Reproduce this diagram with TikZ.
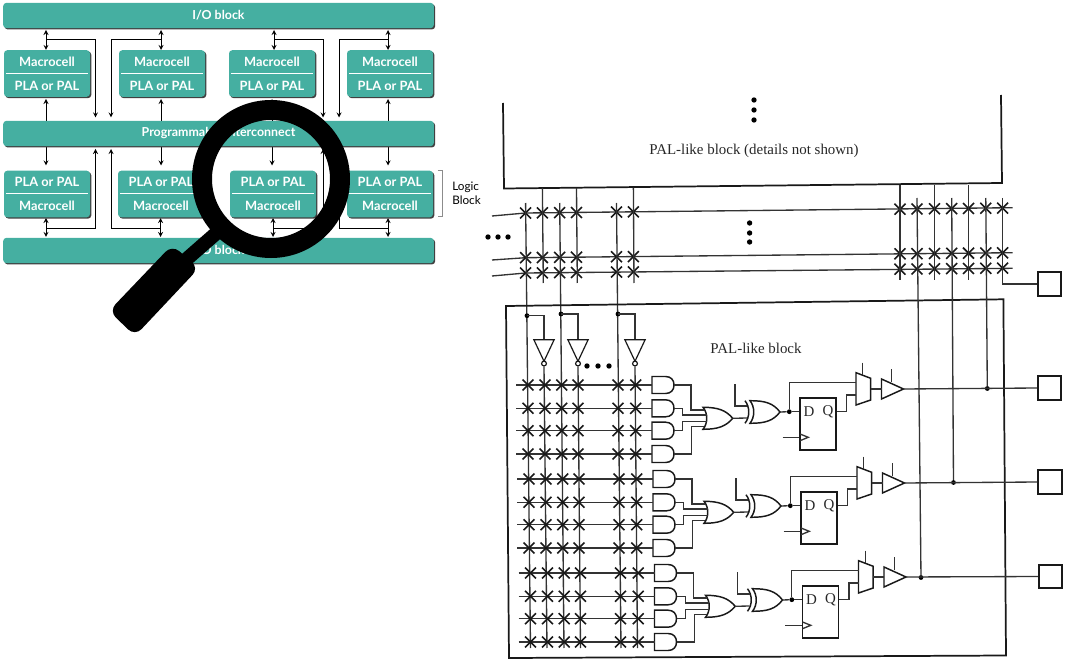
\documentclass[tikz,border=0pt]{standalone}
\usepackage{fontspec}
\usetikzlibrary{shapes.geometric, shapes.misc, shapes.gates.logic.US, arrows.meta, positioning, shadows}
\newfontfamily\blockfont{Lato}
\newfontfamily\scanfont{Liberation Serif}
\definecolor{blockteal}{HTML}{45AFA1}
\newcommand{\celltext}[2]{#1\\\rule[3.5pt]{61pt}{0.6pt}\\#2}
\tikzstyle{bar} = [rectangle, rounded corners=2.5pt, fill=blockteal, draw=none, minimum width=323pt, minimum height=19pt, text=white, font=\blockfont\bfseries\fontsize{9.3}{9}\selectfont, drop shadow={shadow xshift=1pt, shadow yshift=-1pt, fill=black!75, opacity=1}]
\tikzstyle{cell} = [rectangle, rounded corners=2.5pt, fill=blockteal, draw=none, minimum width=64.5pt, minimum height=35pt, inner sep=0pt, align=center, text=white, font=\blockfont\bfseries\fontsize{9.6}{9}\selectfont, drop shadow={shadow xshift=1pt, shadow yshift=-1pt, fill=black!75, opacity=1}]
\tikzstyle{link} = [line width=0.7pt, black, >=stealth]
\tikzstyle{wire} = [line width=1pt, black!80]
\tikzstyle{heavy} = [line width=1.3pt, black!90]
\tikzstyle{gate} = [line width=1.1pt, black!90]
\tikzstyle{xmark} = [cross out, draw=black!90, line width=1.2pt, minimum size=7pt, inner sep=0pt]
\tikzstyle{jdot} = [circle, fill=black, inner sep=0pt, minimum size=3.6pt]
\tikzstyle{vdot} = [circle, fill=black, inner sep=0pt, minimum size=4pt]
\tikzstyle{pad} = [rectangle, draw=black!90, line width=1.4pt, fill=white, minimum size=17.5pt, inner sep=0pt]
\tikzstyle{scan} = [font=\scanfont\fontsize{11.2}{13}\selectfont, text=black!85, inner sep=0pt]
\tikzset{
	andgate/.pic={
		\draw [gate] (-11,-8.5) -- (2.5,-8.5) .. controls (8,-8.5) and (11,-5) .. (11,0) .. controls (11,5) and (8,8.5) .. (2.5,8.5) -- (-11,8.5) -- cycle;
		\coordinate (-in) at (-11,0);
		\coordinate (-out) at (11,0);
	},
	orgate/.pic={
		\draw [gate] (-15,-11) .. controls (0,-11) and (8,-8) .. (14.7,0) .. controls (8,8) and (0,11) .. (-15,11) .. controls (-10,5) and (-10,-5) .. (-15,-11) -- cycle;
		\coordinate (-ia) at (-14,-8.3);
		\coordinate (-ib) at (-11.5,-3.3);
		\coordinate (-ic) at (-11.5,3.3);
		\coordinate (-id) at (-14,8.3);
		\coordinate (-out) at (14.7,0);
	},
	xorgate/.pic={
		\draw [gate] (-15,-11.3) .. controls (0,-11.3) and (8,-9) .. (15,0) .. controls (8,9) and (0,11.3) .. (-15,11.3) .. controls (-10,5) and (-10,-5) .. (-15,-11.3) -- cycle;
		\draw [gate] (-20,-11.3) .. controls (-15,-5) and (-15,5) .. (-20,11.3);
		\coordinate (-ia) at (-18,-6);
		\coordinate (-ib) at (-18,6);
		\coordinate (-out) at (15,0);
	},
	bufgate/.pic={
		\draw [gate] (-11,-10) -- (11,0) -- (-11,10) -- cycle;
		\coordinate (-in) at (-11,0);
		\coordinate (-out) at (11,0);
	},
	muxgate/.pic={
		\draw [gate] (-7.5,-16.3) -- (7.2,-10.7) -- (7.2,11) -- (-7.5,16) -- cycle;
		\coordinate (-ia) at (-7.5,-6.7);
		\coordinate (-ib) at (-7.5,6);
		\coordinate (-out) at (7.2,0);
	}
}
\begin{document}
\begin{tikzpicture}[x=0.75pt, y=-0.75pt]
	\useasboundingbox (0,0) rectangle (1065,663);
	% Arrows of the block diagram
	\foreach \i/\xa/\xb/\xc/\xd in {1/46/95.5/46/95.5, 2/161/111/160.5/111, 3/274/323/273/323, 4/388/339/388/339} {
		\coordinate (ta\i) at (\xa,30);
		\coordinate (tb\i) at (\xa,50);
		\coordinate (tj\i) at (\xa,39);
		\coordinate (te\i) at (\xb,117.5);
		\coordinate (ba\i) at (\xc,218);
		\coordinate (bb\i) at (\xc,237);
		\coordinate (bj\i) at (\xc,228.5);
		\coordinate (be\i) at (\xd,149);
		\draw [link, <->] (ta\i) -- (tb\i);
		\draw [link, ->] (tj\i) -| (te\i);
		\draw [link, <->] (ba\i) -- (bb\i);
		\draw [link, ->] (bj\i) -| (be\i);
	}
	\foreach \i/\xa in {1/46, 2/161, 3/272, 4/388} {
		\coordinate (ma\i) at (\xa,99);
		\coordinate (mb\i) at (\xa,121);
		\coordinate (mc\i) at (\xa,146);
		\coordinate (md\i) at (\xa,165.5);
		\draw [link, ->] (mb\i) -- (ma\i);
		\draw [link, ->] (mc\i) -- (md\i);
	}
	% Nodes of the block diagram
	\node (iotop) [bar] at (218.5,15.5) {I/O block};
	\node (inter) [bar] at (218.5,133.5) {Programmable Interconnect};
	\node (iobot) [bar] at (218.5,250.5) {I/O block};
	\node (mt1) [cell] at (47,73.5) {\celltext{Macrocell}{PLA or PAL}};
	\node (mt2) [cell] at (162,73.5) {\celltext{Macrocell}{PLA or PAL}};
	\node (mt3) [cell] at (272,73.5) {\celltext{Macrocell}{PLA or PAL}};
	\node (mt4) [cell] at (390,73.5) {\celltext{Macrocell}{PLA or PAL}};
	\node (mb1) [cell] at (47,194) {\celltext{PLA or PAL}{Macrocell}};
	\node (mb2) [cell] at (161,194) {\celltext{PLA or PAL}{Macrocell}};
	\node (mb3) [cell] at (273,194) {\celltext{PLA or PAL}{Macrocell}};
	\node (mb4) [cell] at (390,194) {\celltext{PLA or PAL}{Macrocell}};
	\coordinate (bka) at (437.5,170);
	\coordinate (bkb) at (437.5,216);
	\draw [black!45, line width=0.6pt] (bka) -- ++(5,0) -- ++(0,46) -- (bkb);
	\node (logic) [align=left, anchor=west, inner sep=0pt, font=\blockfont\fontsize{8.8}{10.7}\selectfont] at (452,193.5) {Logic\\Block};
	% Upper PAL block
	\coordinate (ua) at (503,103);
	\coordinate (ub) at (504,188.5);
	\coordinate (uc) at (1002,183);
	\coordinate (ud) at (1001,95);
	\draw [heavy] (ua) -- (ub) -- (uc) -- (ud);
	\foreach \i/\yy in {1/100, 2/110, 3/120} \node (ud\i) [vdot] at (754,\yy) {};
	\node (palup) [scan] at (754,150.5) {PAL-like block (details not shown)};
	% Global lines
	\foreach \i/\ya/\yb/\yc in {1/216/213/207.7, 2/260/257.7/252.7, 3/276/273/268.3} {
		\coordinate (hl\i) at (492,\ya);
		\coordinate (hm\i) at (525.6,\yb);
		\coordinate (hr\i) at (1012.5,\yc);
		\draw [wire] (hl\i) -- (hm\i) -- (hr\i);
	}
	\foreach \i/\yy in {1/223, 2/233, 3/242} \node (gd\i) [vdot] at (749.6,\yy) {};
	\foreach \i/\xx in {1/488, 2/498, 3/508} \node (ld\i) [vdot] at (\xx,237) {};
	\foreach \i/\xx in {1/587, 2/598, 3/609} \node (bd\i) [vdot] at (\xx,366) {};
	\foreach \i/\yy in {1/213, 2/257.7, 3/273} {
		\foreach \c/\xx in {1/525.6, 2/542.4, 3/559.7, 4/576.5, 5/616.5, 6/633.4, 7/900, 8/917, 9/934.5, 10/951.7, 11/968.5, 12/985.8, 13/1002.6} {
			\pgfmathsetmacro{\ym}{\yy-0.0103*(\xx-525.6)}
			\node (u\i-\c) [xmark] at (\xx,\ym) {};
		}
	}
	% Columns that go down into the lower block
	\foreach \c/\xa/\xb in {1/525.6/530.5, 3/559.7/564, 5/616.5/621} {
		\coordinate (ct\c) at (\xa,203);
		\coordinate (cb\c) at (\xb,648);
		\draw [wire] (ct\c) -- (cb\c);
	}
	\foreach \c/\xa/\xb/\xe in {2/542.4/543.3/547, 4/576.5/577.3/580.5, 6/633.4/634/637.5} {
		\coordinate (ct\c) at (\xa,188);
		\coordinate (cm\c) at (\xb,283);
		\coordinate (cb\c) at (\xe,648);
		\draw [wire] (ct\c) -- (cm\c);
	}
	\foreach \c/\xx/\yy in {7/900/185, 9/934.5/185, 11/968.5/185} {
		\coordinate (rt\c) at (\xx,\yy);
		\coordinate (rb\c) at (\xx,280);
		\draw [wire] (rt\c) -- (rb\c);
	}
	% Output pads
	\node (sq0) [pad] at (1049.5,284) {};
	\node (sq1) [pad] at (1049.5,388) {};
	\node (sq2) [pad] at (1050,482) {};
	\node (sq3) [pad] at (1050.5,576.5) {};
	\coordinate (rt13) at (1002.6,198);
	\draw [wire] (rt13) |- (sq0.west);
	% Lower block outline
	\coordinate (la) at (506,306);
	\coordinate (lb) at (1003.4,299.3);
	\coordinate (lc) at (1006,655.5);
	\coordinate (ld) at (509,658);
	\draw [heavy] (la) -- (lb) -- (lc) -- (ld) -- cycle;
	\node (pallow) [scan] at (756,348) {PAL-like block};
	% Inverters
	\foreach \c/\xa/\ya/\xb in {1/527/315.7/544, 3/561/314/578, 5/618/314/635} {
		\node (cj\c) [jdot] at (\xa,\ya) {};
		\node (inv\c) [not gate US, draw=black!90, line width=0.9pt, rotate=-90, minimum width=13pt, minimum height=13pt, inner sep=0pt, logic gate inverted radius=1.8pt] at (\xb,347) {};
		\draw [wire] (cj\c.center) -| (inv\c.input);
	}
	\draw [wire] (inv1.output) -- (cb2);
	\draw [wire] (inv3.output) -- (cb4);
	\draw [wire] (inv5.output) -- (cb6);
	% Columns out of the macrocells
	\node (t1) [jdot] at (987.3,388.5) {};
	\node (t2) [jdot] at (953.5,482.5) {};
	\node (t3) [jdot] at (921,577.5) {};
	\coordinate (rt12) at (985.8,198);
	\coordinate (rt10) at (951.7,198);
	\coordinate (rt8) at (917,198);
	\draw [wire] (rt12) -- (t1);
	\draw [wire] (rt10) -- (t2);
	\draw [wire] (rt8) -- (t3);
	% One macrocell, three times
	\foreach \g/\gx/\gy in {1/0/0, 2/1/94, 3/2.5/188} {
		\begin{scope}[shift={(\gx,\gy)}]
			\foreach \r/\yy in {1/385, 2/408.3, 3/430.7, 4/454} {
				\pic (and\g\r) at (663,\yy) {andgate};
				\coordinate (rs\g\r) at (516,\yy);
				\draw [wire] (rs\g\r) -- (and\g\r-in);
				\foreach \c/\xx in {1/528, 2/545, 3/561.7, 4/578, 5/618, 6/635.7} {
					\node (x\g\r\c) [xmark] at (\xx,\yy) {};
				}
			}
			\pic (or\g) at (718,418.3) {orgate};
			\draw [wire] (and\g1-out) -- ++(17,0) |- (or\g-ia);
			\draw [wire] (and\g2-out) -- ++(8.7,0) |- (or\g-ib);
			\draw [wire] (and\g3-out) -- ++(8.7,0) |- (or\g-ic);
			\draw [wire] (and\g4-out) -- ++(17.7,0) |- (or\g-id);
			\pic (xor\g) at (765,412) {xorgate};
			\coordinate (xt\g) at (735,384);
			\draw [wire] (or\g-out) -- (xor\g-ib);
			\draw [wire] (xt\g) |- (xor\g-ia);
			\node (dj\g) [jdot] at (789.3,411.7) {};
			\draw [wire] (xor\g-out) -- (dj\g);
			\node (ff\g) [rectangle, draw=black!90, line width=1.2pt, minimum width=27pt, minimum height=39pt, inner sep=0pt] at (818,424) {};
			\node (dd\g) [scan] at (809,412) {D};
			\node (qq\g) [scan] at (828,412) {Q};
			\draw [wire] (dj\g) -- (ff\g.west |- dj\g);
			\coordinate (ck\g) at (782.7,437.3);
			\draw [wire] (ck\g) -- (ff\g.west |- ck\g);
			\coordinate (cka\g) at (800,434);
			\coordinate (ckb\g) at (800,440.7);
			\draw [wire] (cka\g) -- (808.3,437.3) -- (ckb\g);
			\pic (mux\g) at (863.5,389) {muxgate};
			\draw [wire] (dj\g) |- (mux\g-ia);
			\draw [wire] (ff\g.east |- dj\g) -- ++(9.7,0) |- (mux\g-ib);
			\coordinate (ms\g) at (862.7,362.7);
			\draw [wire] (ms\g) -- ++(0,12);
			\pic (buf\g) at (892.5,389) {bufgate};
			\draw [wire] (mux\g-out) -- (buf\g-in);
			\coordinate (bs\g) at (891.7,369.3);
			\draw [wire] (bs\g) -- ++(0,13);
			\draw [wire] (buf\g-out) -- (sq\g.west);
		\end{scope}
	}
	% Magnifier on top
	\node (lens) [circle, draw=black, line width=15pt, minimum size=103.5pt, inner sep=0pt] at (271,179) {};
	\coordinate (neck) at (172,272);
	\draw [black, line width=10.5pt] (lens.center) ++(-50,50) -- (neck);
	\fill [black, rounded corners=7pt] (172,245) -- (199,268) -- (135,336) -- (109,311) -- cycle;
\end{tikzpicture}
\end{document}
